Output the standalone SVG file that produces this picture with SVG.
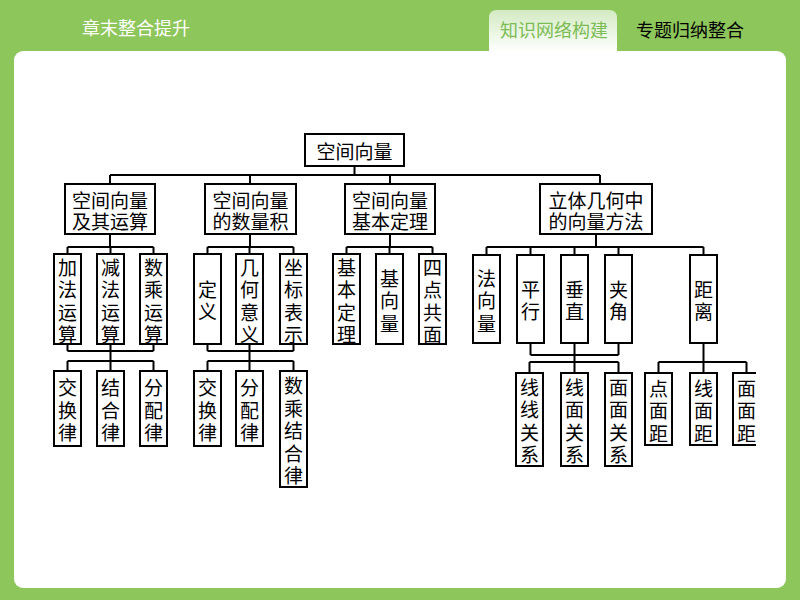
<svg xmlns="http://www.w3.org/2000/svg" width="800" height="600" viewBox="0 0 800 600">
<defs>
<linearGradient id="tabg" x1="0" y1="0" x2="0" y2="1">
<stop offset="0" stop-color="#d3eac2"/>
<stop offset="1" stop-color="#ffffff"/>
</linearGradient>
<clipPath id="cut"><rect x="0" y="0" width="756" height="600"/></clipPath>
</defs>
<style>
.bx{fill:#fff;stroke:#000;stroke-width:2}
.ln{fill:none;stroke:#000;stroke-width:2}
.t{font-family:"Noto Sans CJK SC","Noto Sans CJK JP",sans-serif;font-size:19px;fill:#000;text-anchor:middle;dominant-baseline:central}
.v{font-family:"Noto Sans CJK SC","Noto Sans CJK JP",sans-serif;font-size:19px;fill:#000;text-anchor:middle;dominant-baseline:central}
.hd{font-family:"Noto Sans CJK SC","Noto Sans CJK JP",sans-serif;font-size:18px;dominant-baseline:central}
</style>
<rect x="0" y="0" width="800" height="600" fill="#8dc65a"/>
<rect x="14" y="51" width="772" height="537" rx="9" fill="#fff"/>
<path d="M489 52 V18 Q489 10 497 10 H609 Q617 10 617 18 V52 Z" fill="url(#tabg)"/>
<text class="hd" x="82" y="27" fill="#ffffff" font-size="19.5">章末整合提升</text>
<text class="hd" x="500" y="29" fill="#7cbc55">知识网络构建</text>
<text class="hd" x="636" y="29" fill="#000">专题归纳整合</text>

<g clip-path="url(#cut)">
<g id="connectors">
<path class="ln" d="M354.5 166V175 M110 175H600 M110 175V184 M250 175V184 M390 175V184 M600 175V184"/>
<path class="ln" d="M110 234V247 M67.5 247H153.5 M67.5 247V254 M110.5 247V254 M153.5 247V254"/>
<path class="ln" d="M250 234V247 M207.5 247H293.5 M207.5 247V254 M249.5 247V254 M293.5 247V254"/>
<path class="ln" d="M390 234V247 M346.5 247H432.5 M346.5 247V254 M389.5 247V254 M432.5 247V254"/>
<path class="ln" d="M596 234V247 M486.5 247H703.5 M486.5 247V255 M530.5 247V255 M574.5 247V255 M618.5 247V255 M703.5 247V255"/>
<path class="ln" d="M67.5 344V351 M110.5 344V361 M153.5 344V351 M67.5 351H153.5 M67.5 361H153.5 M67.5 361V371 M110.5 361V371 M153.5 361V371"/>
<path class="ln" d="M207.5 344V351 M249.5 344V361 M293.5 344V351 M207.5 351H293.5 M207.5 361H293.5 M207.5 361V371 M249.5 361V371 M293.5 361V371"/>
<path class="ln" d="M530.5 343V355 M618.5 343V355 M530.5 355H618.5 M574.5 343V362 M529.5 362H618.5 M529.5 362V373 M574.5 362V373 M618.5 362V373"/>
<path class="ln" d="M703.5 343V362 M658.5 362H746.5 M658.5 362V373 M703.5 362V373 M746.5 362V373"/>
</g>

<g id="root"><rect class="bx" x="305" y="134" width="99" height="32"/><text class="t" x="354.5" y="150" font-size="20">空间向量</text></g>

<g id="n1"><rect class="bx" x="65" y="184" width="90" height="50"/><text class="t" x="110" y="199">空间向量</text><text class="t" x="110" y="220">及其运算</text></g>
<g id="n2"><rect class="bx" x="205" y="184" width="91" height="50"/><text class="t" x="250.5" y="199">空间向量</text><text class="t" x="250.5" y="220">的数量积</text></g>
<g id="n3"><rect class="bx" x="345" y="184" width="90" height="50"/><text class="t" x="390" y="199">空间向量</text><text class="t" x="390" y="220">基本定理</text></g>
<g id="n4"><rect class="bx" x="540" y="184" width="112" height="50"/><text class="t" x="596" y="199">立体几何中</text><text class="t" x="596" y="220">的向量方法</text></g>

<g id="a1"><rect class="bx" x="54" y="254" width="27" height="90"/><text class="v"><tspan x="67.5" y="265.5">加</tspan><tspan x="67.5" y="288">法</tspan><tspan x="67.5" y="310.5">运</tspan><tspan x="67.5" y="333">算</tspan></text></g>
<g id="a2"><rect class="bx" x="97" y="254" width="27" height="90"/><text class="v"><tspan x="110.5" y="265.5">减</tspan><tspan x="110.5" y="288">法</tspan><tspan x="110.5" y="310.5">运</tspan><tspan x="110.5" y="333">算</tspan></text></g>
<g id="a3"><rect class="bx" x="140" y="254" width="27" height="90"/><text class="v"><tspan x="153.5" y="265.5">数</tspan><tspan x="153.5" y="288">乘</tspan><tspan x="153.5" y="310.5">运</tspan><tspan x="153.5" y="333">算</tspan></text></g>

<g id="b1"><rect class="bx" x="194" y="254" width="27" height="90"/><text class="v"><tspan x="207.5" y="287.75">定</tspan><tspan x="207.5" y="310.25">义</tspan></text></g>
<g id="b2"><rect class="bx" x="236" y="254" width="27" height="90"/><text class="v"><tspan x="249.5" y="265.5">几</tspan><tspan x="249.5" y="288">何</tspan><tspan x="249.5" y="310.5">意</tspan><tspan x="249.5" y="333">义</tspan></text></g>
<g id="b3"><rect class="bx" x="280" y="254" width="27" height="90"/><text class="v"><tspan x="293.5" y="265.5">坐</tspan><tspan x="293.5" y="288">标</tspan><tspan x="293.5" y="310.5">表</tspan><tspan x="293.5" y="333">示</tspan></text></g>

<g id="c1"><rect class="bx" x="333" y="254" width="27" height="90"/><text class="v"><tspan x="346.5" y="265.5">基</tspan><tspan x="346.5" y="288">本</tspan><tspan x="346.5" y="310.5">定</tspan><tspan x="346.5" y="333">理</tspan></text></g>
<g id="c2"><rect class="bx" x="376" y="254" width="27" height="90"/><text class="v"><tspan x="389.5" y="276.5">基</tspan><tspan x="389.5" y="299">向</tspan><tspan x="389.5" y="321.5">量</tspan></text></g>
<g id="c3"><rect class="bx" x="419" y="254" width="27" height="90"/><text class="v"><tspan x="432.5" y="265.5">四</tspan><tspan x="432.5" y="288">点</tspan><tspan x="432.5" y="310.5">共</tspan><tspan x="432.5" y="333">面</tspan></text></g>

<g id="d1"><rect class="bx" x="473" y="255" width="27" height="88"/><text class="v"><tspan x="486.5" y="276.5">法</tspan><tspan x="486.5" y="299">向</tspan><tspan x="486.5" y="321.5">量</tspan></text></g>
<g id="d2"><rect class="bx" x="517" y="255" width="27" height="88"/><text class="v"><tspan x="530.5" y="287.75">平</tspan><tspan x="530.5" y="310.25">行</tspan></text></g>
<g id="d3"><rect class="bx" x="561" y="255" width="27" height="88"/><text class="v"><tspan x="574.5" y="287.75">垂</tspan><tspan x="574.5" y="310.25">直</tspan></text></g>
<g id="d4"><rect class="bx" x="605" y="255" width="27" height="88"/><text class="v"><tspan x="618.5" y="287.75">夹</tspan><tspan x="618.5" y="310.25">角</tspan></text></g>
<g id="d5"><rect class="bx" x="690" y="255" width="27" height="88"/><text class="v"><tspan x="703.5" y="287.75">距</tspan><tspan x="703.5" y="310.25">离</tspan></text></g>

<g id="e1"><rect class="bx" x="54" y="371" width="27" height="75"/><text class="v"><tspan x="67.5" y="386">交</tspan><tspan x="67.5" y="408.5">换</tspan><tspan x="67.5" y="431">律</tspan></text></g>
<g id="e2"><rect class="bx" x="97" y="371" width="27" height="75"/><text class="v"><tspan x="110.5" y="386">结</tspan><tspan x="110.5" y="408.5">合</tspan><tspan x="110.5" y="431">律</tspan></text></g>
<g id="e3"><rect class="bx" x="140" y="371" width="27" height="75"/><text class="v"><tspan x="153.5" y="386">分</tspan><tspan x="153.5" y="408.5">配</tspan><tspan x="153.5" y="431">律</tspan></text></g>

<g id="f1"><rect class="bx" x="194" y="371" width="27" height="75"/><text class="v"><tspan x="207.5" y="386">交</tspan><tspan x="207.5" y="408.5">换</tspan><tspan x="207.5" y="431">律</tspan></text></g>
<g id="f2"><rect class="bx" x="236" y="371" width="27" height="75"/><text class="v"><tspan x="249.5" y="386">分</tspan><tspan x="249.5" y="408.5">配</tspan><tspan x="249.5" y="431">律</tspan></text></g>
<g id="f3"><rect class="bx" x="280" y="371" width="27" height="116"/><text class="v"><tspan x="293.5" y="384">数</tspan><tspan x="293.5" y="406.5">乘</tspan><tspan x="293.5" y="429">结</tspan><tspan x="293.5" y="451.5">合</tspan><tspan x="293.5" y="474">律</tspan></text></g>

<g id="g1"><rect class="bx" x="516" y="373" width="27" height="93"/><text class="v"><tspan x="529.5" y="385.75">线</tspan><tspan x="529.5" y="408.25">线</tspan><tspan x="529.5" y="430.75">关</tspan><tspan x="529.5" y="453.25">系</tspan></text></g>
<g id="g2"><rect class="bx" x="561" y="373" width="27" height="93"/><text class="v"><tspan x="574.5" y="385.75">线</tspan><tspan x="574.5" y="408.25">面</tspan><tspan x="574.5" y="430.75">关</tspan><tspan x="574.5" y="453.25">系</tspan></text></g>
<g id="g3"><rect class="bx" x="605" y="373" width="27" height="93"/><text class="v"><tspan x="618.5" y="385.75">面</tspan><tspan x="618.5" y="408.25">面</tspan><tspan x="618.5" y="430.75">关</tspan><tspan x="618.5" y="453.25">系</tspan></text></g>

<g id="h1"><rect class="bx" x="645" y="373" width="27" height="72"/><text class="v"><tspan x="658.5" y="386.5">点</tspan><tspan x="658.5" y="409">面</tspan><tspan x="658.5" y="431.5">距</tspan></text></g>
<g id="h2"><rect class="bx" x="690" y="373" width="27" height="72"/><text class="v"><tspan x="703.5" y="386.5">线</tspan><tspan x="703.5" y="409">面</tspan><tspan x="703.5" y="431.5">距</tspan></text></g>
<g id="h3"><rect class="bx" x="733" y="373" width="27" height="72"/><text class="v"><tspan x="746.5" y="386.5">面</tspan><tspan x="746.5" y="409">面</tspan><tspan x="746.5" y="431.5">距</tspan></text></g>
</g>
</svg>
